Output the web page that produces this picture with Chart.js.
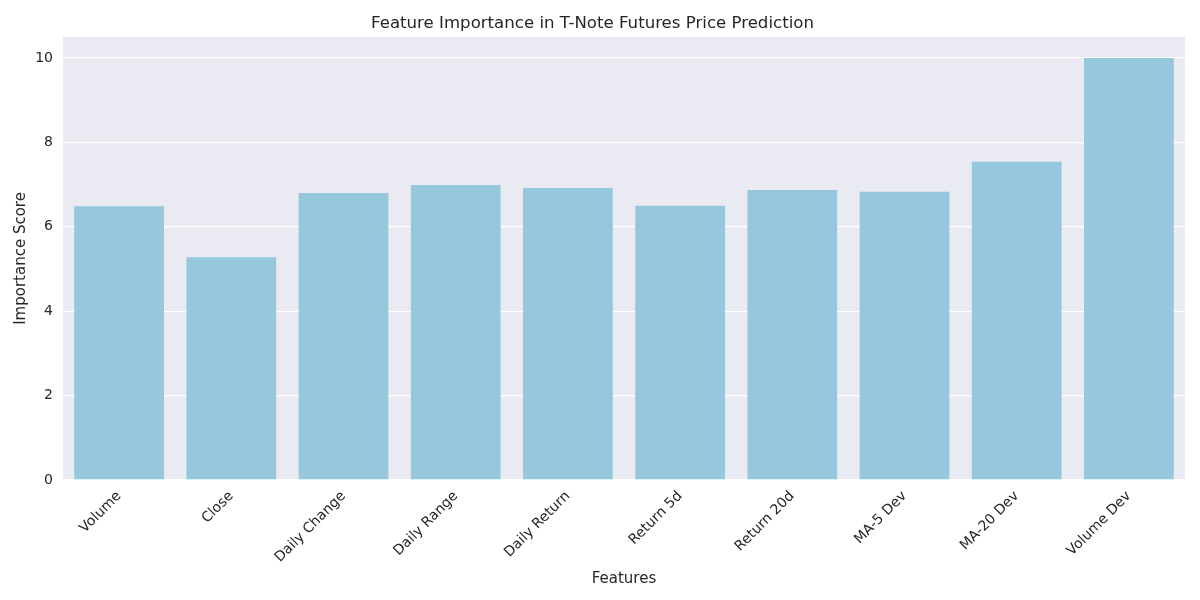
<!DOCTYPE html>
<html>
<head>
<meta charset="utf-8">
<script src="https://cdn.jsdelivr.net/npm/chart.js@4/dist/chart.umd.min.js"></script>
<style>
  html, body { margin: 0; padding: 0; background: #fff; }
  #wrap { width: 1200px; height: 600px; }
</style>
</head>
<body>
<div id="wrap"><canvas id="myChart"></canvas></div>
<script>
// values
const features = ['Volume', 'Close', 'Daily Change', 'Daily Range', 'Daily Return',
                  'Return 5d', 'Return 20d', 'MA-5 Dev', 'MA-20 Dev', 'Volume Dev'];
const importance = [6.49, 5.28, 6.80, 6.99, 6.92, 6.50, 6.87, 6.83, 7.54, 10.0];
const yTicks = [0, 2, 4, 6, 8, 10];

const fontFamily = "'DejaVu Sans', sans-serif";
const textColor = '#262626';

// paint the seaborn grey behind the plot area
const plotBackground = {
  id: 'plotBackground',
  beforeDraw(chart) {
    const { ctx, chartArea } = chart;
    ctx.save();
    ctx.fillStyle = '#EAEAF2';
    ctx.fillRect(chartArea.left, chartArea.top,
                 chartArea.right - chartArea.left, chartArea.bottom - chartArea.top);
    ctx.restore();
  }
};

const ctx = document.getElementById('myChart').getContext('2d');
new Chart(ctx, {
  type: 'bar',
  data: {
    labels: features,
    datasets: [{
      data: importance,
      backgroundColor: '#95C8DD',
      borderWidth: 0,
      categoryPercentage: 0.8,
      barPercentage: 1.0
    }]
  },
  options: {
    responsive: true,
    maintainAspectRatio: false,
    animation: false,
    layout: { padding: { left: 0, right: 15, top: 0, bottom: 0 } },
    plugins: {
      legend: { display: false },
      tooltip: { enabled: false },
      title: {
        display: true,
        text: 'Feature Importance in T-Note Futures Price Prediction',
        color: textColor,
        font: { family: fontFamily, size: 16.6, weight: 'normal' },
        padding: { top: 14, bottom: 3 }
      }
    },
    scales: {
      x: {
        grid: { display: false, drawTicks: false },
        border: { display: false },
        ticks: {
          color: textColor,
          font: { family: fontFamily, size: 14 },
          minRotation: 45,
          maxRotation: 45,
          autoSkip: false,
          padding: 8
        },
        title: {
          display: true,
          text: 'Features',
          color: textColor,
          font: { family: fontFamily, size: 15 },
          padding: { top: 0, bottom: 12 }
        },
        afterFit(axis) { axis.height = 120; }
      },
      y: {
        min: 0,
        max: 10.5,
        grid: { color: '#FFFFFF', lineWidth: 1.3, drawTicks: false },
        border: { display: false },
        afterBuildTicks(axis) { axis.ticks = yTicks.map(v => ({ value: v })); },
        ticks: {
          color: textColor,
          font: { family: fontFamily, size: 14 },
          padding: 10
        },
        title: {
          display: true,
          text: 'Importance Score',
          color: textColor,
          font: { family: fontFamily, size: 15 },
          padding: { top: 12, bottom: 0 }
        },
        afterFit(axis) { axis.width = 63; }
      }
    }
  },
  plugins: [plotBackground]
});
</script>
</body>
</html>
